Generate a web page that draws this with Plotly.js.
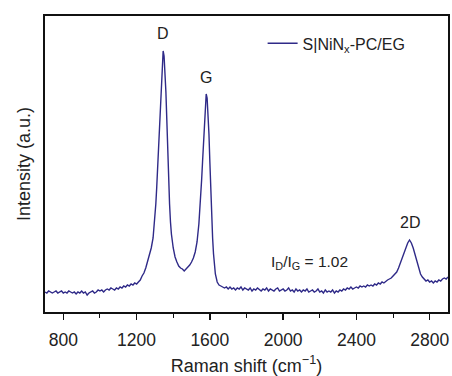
<!DOCTYPE html>
<html>
<head>
<meta charset="utf-8">
<script src="https://cdn.plot.ly/plotly-3.0.1.min.js"></script>
<style>html,body{margin:0;padding:0;background:#fff;}#chart{width:452px;height:376px;}</style>
</head>
<body>
<div id="chart"></div>
<script>
// Raman shift (cm^-1)
const ramanShift = [
700,710,720,730,740,750,760,770,780,790,800,810,820,830,840,850,860,870,880,890,
900,910,920,930,940,950,960,970,980,990,1000,1010,1020,1030,1040,1050,1060,1070,1080,1090,
1100,1110,1120,1130,1140,1150,1160,1170,1180,1190,1200,1210,1220,1230,1240,1250,1260,1270,1280,1290,
1300,1305,1310,1315,1320,1325,1330,1335,1340,1345,1350,1355,1360,1365,1370,1375,1380,1385,1390,1400,
1410,1420,1430,1440,1450,1460,1470,1480,1490,1500,1510,1520,1530,1540,1545,1550,1555,1560,1565,1570,
1575,1580,1585,1590,1595,1600,1605,1610,1615,1620,1625,1630,1640,1650,1660,1670,1680,1690,1700,
1710,1720,1730,1740,1750,1760,1770,1780,1790,1800,1810,1820,1830,1840,1850,1860,1870,1880,1890,1900,
1910,1920,1930,1940,1950,1960,1970,1980,1990,2000,2010,2020,2030,2040,2050,2060,2070,2080,2090,2100,
2110,2120,2130,2140,2150,2160,2170,2180,2190,2200,2210,2220,2230,2240,2250,2260,2270,2280,2290,2300,
2310,2320,2330,2340,2350,2360,2370,2380,2390,2400,2410,2420,2430,2440,2450,2460,2470,2480,2490,2500,
2510,2520,2530,2540,2550,2560,2570,2580,2590,2600,2610,2620,2630,2640,2650,2660,2670,2680,2690,2700,
2710,2720,2730,2740,2750,2760,2770,2780,2790,2800,2810,2820,2830,2840,2850,2860,2870,2880,2890,2900
];
// Intensity (a.u.)
const intensity = [
20,19,21,20,19,20,21,19,20,21,19,20,19,21,20,19,20,18,20,19,
21,19,20,17,19,20,21,19,20,22,21,22,20,22,23,22,24,23,22,24,
23,25,24,26,25,27,26,28,27,29,28,30,32,36,39,44,50,56,64,74,
95,108,125,145,168,190,214,236,252,261,256,242,220,192,160,132,108,90,78,64,
55,50,46,44,43,41,43,44,47,50,54,60,70,88,100,115,132,150,170,192,
208,218,214,200,178,150,120,95,74,58,46,38,30,27,26,25,24,25,23,
25,23,24,22,24,23,25,22,24,23,22,24,21,23,22,24,22,21,23,22,
24,21,23,22,21,23,24,21,22,23,21,22,24,21,22,20,23,21,22,20,
22,21,23,20,21,22,20,21,23,20,21,19,22,20,21,20,22,19,21,20,
22,21,23,22,24,23,25,23,24,25,24,26,25,26,25,27,26,27,26,28,
27,29,28,30,29,31,32,33,34,36,38,40,44,49,54,60,65,69,72,69,
64,57,50,43,38,35,33,31,32,30,31,29,31,30,32,31,33,34,33,35
];
const seriesName = "S<span style='font-weight:300'>|</span>NiN<sub>x</sub>-PC/EG";
const xTickVals = [800,1200,1600,2000,2400,2800];
const peakLabels = ["D","G","2D"];
const peakX = [1346,1581,2690];
const peakLabelY = [279,235,90];
const ratioText = "I<sub>D</sub>/I<sub>G</sub> = 1.02";
const ratioX = 2144, ratioY = 50;

const font = "Liberation Sans, Arial, Helvetica, sans-serif";
const txt = "#222";

const annotations = peakLabels.map((t,i)=>({
  x: peakX[i], y: peakLabelY[i], xref:'x', yref:'y', text:t, showarrow:false,
  font:{family:font,size:16,color:txt}
}));
annotations.push({x:ratioX,y:ratioY,xref:'x',yref:'y',text:ratioText,showarrow:false,
  font:{family:font,size:15.5,color:txt}});

Plotly.newPlot('chart',[{
  x: ramanShift, y: intensity, type:'scatter', mode:'lines', name: seriesName,
  line:{color:'#2f2a88', width:1.4}
}],{
  width:452, height:376,
  margin:{l:45,r:4,t:16,b:64},
  paper_bgcolor:'#fff', plot_bgcolor:'#fff',
  showlegend:true,
  legend:{x:0.54,y:0.965,xanchor:'left',yanchor:'top',bgcolor:'rgba(0,0,0,0)',
    font:{family:font,size:16,color:txt}},
  xaxis:{range:[700,2900], tickvals:xTickVals, ticks:'outside', ticklen:6, tickwidth:1.5, tickcolor:'#111',
    minor:{dtick:200, tick0:800, ticks:'outside', ticklen:4, tickcolor:'#111', tickwidth:1},
    showline:true, mirror:true, linecolor:'#111', linewidth:2, showgrid:false, zeroline:false,
    tickfont:{family:font,size:17.5,color:txt}, ticklabelstandoff:5,
    title:{text:'Raman shift (cm<sup>−1</sup>)', font:{family:font,size:18,color:txt}, standoff:10}},
  yaxis:{range:[0,296], showticklabels:false, ticks:'', showline:true, mirror:true, linecolor:'#111', linewidth:2,
    showgrid:false, zeroline:false,
    title:{text:'Intensity (a.u.)', font:{family:font,size:18,color:txt}, standoff:8}},
  annotations: annotations
},{displayModeBar:false, staticPlot:true});
</script>
</body>
</html>
